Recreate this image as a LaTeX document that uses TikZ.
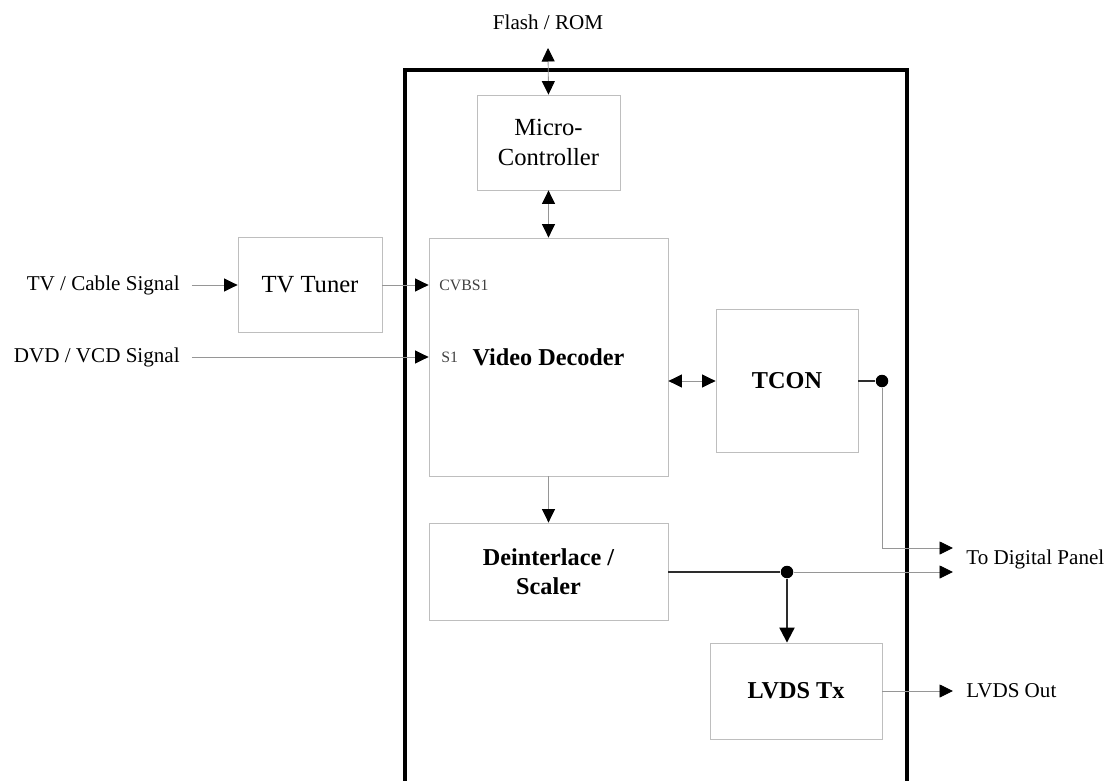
\documentclass[tikz,border=0pt]{standalone}
\usepackage{fontspec}
\setmainfont{Liberation Serif}
\usetikzlibrary{positioning, arrows.meta}
\definecolor{boxgray}{RGB}{190, 190, 190}
\definecolor{wiregray}{RGB}{150, 150, 150}
\definecolor{busdark}{RGB}{45, 45, 45}

\begin{document}
\begin{tikzpicture}[
    x=0.02cm, y=-0.02cm,
    box/.style={rectangle, draw=boxgray, line width=0.5pt, align=center, inner sep=0pt, font=\fontsize{14}{17}\selectfont},
    boldbox/.style={box, font=\fontsize{13.8}{16.5}\selectfont\bfseries},
    sig/.style={inner sep=0pt, font=\fontsize{12}{15}\selectfont},
    port/.style={inner sep=0pt, anchor=west, text=black!75, font=\fontsize{9}{10}\selectfont},
    arrow/.style={-{Triangle[length=0.27cm, width=0.26cm, color=black]}, draw=wiregray, line width=0.5pt},
    dblarrow/.style={{Triangle[length=0.27cm, width=0.26cm, color=black]}-{Triangle[length=0.27cm, width=0.26cm, color=black]}, draw=wiregray, line width=0.5pt},
    wire/.style={draw=wiregray, line width=0.5pt},
    bus/.style={draw=busdark, line width=1pt},
    busarrow/.style={-{Triangle[length=0.3cm, width=0.3cm, color=black]}, draw=busdark, line width=1.2pt},
    chip/.style={draw=black, line width=2pt},
    joint/.style={circle, fill=black, inner sep=0pt, minimum size=0.25cm},
]
\useasboundingbox (0,0) rectangle (1110,781);

% ============ chip outline ============
\draw[chip] (405,781) |- (907,70) -- (907,781);

% ============ blocks ============
\node[box, minimum width=2.86cm, minimum height=1.9cm] (micro) at (548.5,142.5)
      {Micro-\\Controller};
\node[box, minimum width=2.88cm, minimum height=1.9cm] (tuner) at (310,285)
      {TV Tuner};
\node[boldbox, minimum width=4.78cm, minimum height=4.76cm] (decoder) at (548.5,357)
      {Video Decoder};
\node[boldbox, minimum width=2.84cm, minimum height=2.86cm] (tcon) at (787,381)
      {TCON};
\node[boldbox, minimum width=4.78cm, minimum height=1.94cm] (deint) at (548.5,571.5)
      {Deinterlace /\\Scaler};
\node[boldbox, minimum width=3.44cm, minimum height=1.92cm] (lvds) at (796,691)
      {LVDS Tx};

% decoder inputs
\node[port] (cvbs) at (439,285) {CVBS1};
\node[port] (sone) at (441,357) {S1};

% ============ signals ============
\node[sig] (flash) at (548,22) {Flash / ROM};
\node[sig, anchor=east] (cable) at (180,285) {TV / Cable Signal};
\node[sig, anchor=east] (dvd) at (180,357) {DVD / VCD Signal};
\node[sig, anchor=west] (panel) at (966,559) {To Digital Panel};
\node[sig, anchor=west] (lvdsout) at (966,691) {LVDS Out};

\coordinate (romport) at (548,48);
\coordinate (panelA) at (953,548);
\coordinate (panelB) at (953,572);
\coordinate (lvdsport) at (953,691);

\node[joint] (tjoint) at (882,381) {};
\node[joint] (sjoint) at (787,572) {};

% ============ arrows ============
\draw[dblarrow] (romport) -- (micro.north);
\draw[dblarrow] (micro.south) -- (decoder.north);

\draw[arrow, shorten <=0.24cm] (cable.east) -- (tuner.west);
\draw[arrow] (tuner.east) -- (tuner.east -| decoder.west);
\draw[arrow, shorten <=0.24cm] (dvd.east) -- (dvd.east -| decoder.west);

\draw[dblarrow] (decoder.east |- tcon.west) -- (tcon.west);
\draw[arrow] (decoder.south) -- (deint.north);

% TCON out
\draw[bus] (tcon.east) -- (tjoint);
\draw[arrow] (tjoint) |- (panelA);

% scaler out
\draw[bus] (deint.east |- sjoint) -- (sjoint);
\draw[arrow] (sjoint) -- (panelB);
\draw[busarrow] (sjoint) -- (sjoint |- lvds.north);
\draw[arrow] (lvds.east) -- (lvdsport);

\end{tikzpicture}
\end{document}
